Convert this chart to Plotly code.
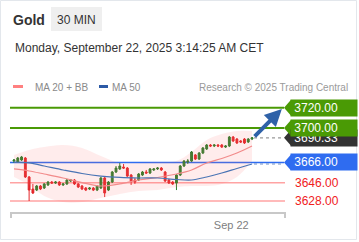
import plotly.graph_objects as go

# ---------------- data ----------------
CANDLE_IDX = list(range(64))
OPEN = [3667.4, 3666.4, 3668.4, 3670.4, 3651.7, 3639.8, 3638.8, 3642.8, 3640.8, 3643.8,
        3646.7, 3645.7, 3646.7, 3643.8, 3644.8, 3647.7, 3648.7, 3644.8, 3642.8, 3640.8,
        3639.8, 3640.8, 3638.8, 3640.8, 3650.7, 3638.8, 3646.7, 3656.6, 3659.6, 3661.5,
        3660.5, 3653.6, 3648.7, 3648.7, 3653.6, 3656.6, 3655.6, 3658.6, 3659.6, 3660.5,
        3656.6, 3648.7, 3646.7, 3645.7, 3653.6, 3662.5, 3666.4, 3667.4, 3673.4, 3669.4,
        3675.3, 3679.3, 3683.2, 3682.2, 3683.2, 3683.2, 3681.2, 3682.2, 3691.1, 3689.1,
        3687.2, 3689.1, 3686.2, 3689.1]
HIGH = [3669.4, 3671.4, 3672.4, 3671.4, 3652.6, 3644.8, 3643.8, 3643.8, 3645.7, 3647.7,
        3647.7, 3647.7, 3647.7, 3645.7, 3649.7, 3649.7, 3649.7, 3645.7, 3643.8, 3641.8,
        3641.8, 3641.8, 3643.8, 3651.7, 3651.7, 3647.7, 3657.6, 3662.5, 3665.5, 3664.5,
        3661.5, 3654.6, 3650.7, 3655.6, 3657.6, 3658.6, 3660.5, 3660.5, 3661.5, 3661.5,
        3657.6, 3649.7, 3647.7, 3654.6, 3663.5, 3668.4, 3669.4, 3677.3, 3674.3, 3676.3,
        3681.2, 3684.2, 3684.2, 3684.2, 3684.2, 3684.2, 3683.2, 3692.1, 3692.1, 3690.1,
        3688.1, 3690.1, 3690.1, 3691.1]
LOW = [3665.5, 3665.5, 3667.4, 3650.7, 3628.0, 3634.9, 3637.8, 3638.8, 3639.8, 3642.8,
       3644.8, 3644.8, 3642.8, 3642.8, 3643.8, 3646.7, 3643.8, 3640.8, 3638.8, 3637.8,
       3638.8, 3637.8, 3637.8, 3639.8, 3631.9, 3637.8, 3645.7, 3655.6, 3658.6, 3659.6,
       3651.7, 3643.8, 3644.8, 3647.7, 3652.6, 3654.6, 3654.6, 3657.6, 3658.6, 3657.6,
       3646.7, 3644.8, 3643.8, 3638.8, 3652.6, 3661.5, 3664.5, 3666.4, 3668.4, 3668.4,
       3674.3, 3678.3, 3681.2, 3681.2, 3681.2, 3680.3, 3680.3, 3681.2, 3686.2, 3684.2,
       3685.2, 3684.2, 3685.2, 3688.1]
CLOSE = [3668.4, 3670.4, 3671.4, 3651.7, 3638.8, 3635.9, 3642.8, 3639.8, 3644.8, 3646.7,
         3645.7, 3646.7, 3643.8, 3644.8, 3648.7, 3648.7, 3644.8, 3641.8, 3639.8, 3638.8,
         3640.8, 3638.8, 3642.8, 3650.7, 3635.9, 3646.7, 3656.6, 3660.5, 3662.5, 3660.5,
         3652.6, 3647.7, 3646.7, 3654.6, 3656.6, 3655.6, 3659.6, 3659.6, 3660.5, 3658.6,
         3647.7, 3645.7, 3644.8, 3653.6, 3662.5, 3667.4, 3667.4, 3676.3, 3669.4, 3675.3,
         3680.3, 3683.2, 3682.2, 3683.2, 3682.2, 3681.2, 3682.2, 3691.1, 3687.2, 3685.2,
         3686.2, 3685.2, 3689.1, 3690.33]

MA_IDX = [0, 4, 8, 13, 18, 23, 28, 33, 38, 43, 47, 51, 55, 59, 63]
MA20 = [3659.6, 3657.6, 3654.6, 3650.7, 3646.2, 3642.8, 3644.8, 3648.7, 3651.2, 3654.6,
        3658.6, 3665.5, 3669.9, 3675.3, 3682.2]
MA50 = [3666.4, 3665.5, 3662.5, 3658.6, 3655.1, 3652.6, 3651.2, 3650.7, 3650.7, 3649.2,
        3648.7, 3651.7, 3655.6, 3660.1, 3664.5]
BB_UP = [3673.4, 3678.3, 3681.2, 3683.2, 3680.3, 3672.4, 3665.5, 3665.5, 3666.4, 3667.4,
         3676.3, 3688.1, 3694.0, 3697.0, 3697.0]
BB_LO = [3651.7, 3643.8, 3632.9, 3627.0, 3627.0, 3630.9, 3634.9, 3637.8, 3638.8, 3641.8,
         3642.8, 3642.8, 3644.8, 3651.7, 3667.4]

RESISTANCES = [3720.00, 3700.00]
PIVOT = 3666.00
SUPPORTS = [3646.00, 3628.00]
LAST_PRICE = 3690.33
TICK_POS = [57.5]
TICK_LABELS = ["Sep 22"]

TITLE = "Gold"
PERIOD = "30 MIN"
DATE_TEXT = "Monday, September 22, 2025 3:14:25 AM CET"
LEGEND = ["MA 20 + BB", "MA 50"]
CREDIT = "Research \u00a9 2025 Trading Central"

# ---------------- layout helpers ----------------
W, H = 359, 242
FONT = "Liberation Sans, Arial, sans-serif"
X_LO, X_HI = 10, 285
Y_TOP, Y_BOT = 95, 213
X_RANGE = [-1.06, 71.73]
Y_RANGE = [3616.17, 3732.52]

GREEN = "#4a9a05"
BLUE = "#2f6cf0"
RED_LINE = "#ffa3a3"
RED_TEXT = "#f0201c"
DARK = "#333333"


def px(x):
    return x / W


def py(y):
    return 1 - y / H


def ix_px(i):
    return X_LO + (i - X_RANGE[0]) / (X_RANGE[1] - X_RANGE[0]) * (X_HI - X_LO)


def pspan(pix):
    return pix * (Y_RANGE[1] - Y_RANGE[0]) / (Y_BOT - Y_TOP)


fig = go.Figure()

# Bollinger band fill
fig.add_trace(go.Scatter(x=MA_IDX, y=BB_UP, mode="lines", line=dict(width=0, shape="spline"),
                         hoverinfo="skip", showlegend=False))
fig.add_trace(go.Scatter(x=MA_IDX, y=BB_LO, mode="lines", line=dict(width=0, shape="spline"),
                         fill="tonexty", fillcolor="rgba(255,110,110,0.13)",
                         hoverinfo="skip", showlegend=False))

shapes = []
# level lines (below candles)
for lv in RESISTANCES:
    shapes.append(dict(type="line", xref="paper", yref="y", x0=px(X_LO), x1=px(284), y0=lv, y1=lv,
                       line=dict(color=GREEN, width=2), layer="below"))
shapes.append(dict(type="line", xref="paper", yref="y", x0=px(X_LO), x1=px(284), y0=PIVOT, y1=PIVOT,
                   line=dict(color=BLUE, width=1.5), layer="below"))
for lv in SUPPORTS:
    shapes.append(dict(type="line", xref="paper", yref="y", x0=px(X_LO), x1=px(285), y0=lv, y1=lv,
                       line=dict(color=RED_LINE, width=1.5), layer="below"))

# moving averages
fig.add_trace(go.Scatter(x=MA_IDX, y=MA20, mode="lines", line=dict(color="#f28b8b", width=1.2, shape="spline"),
                         hoverinfo="skip", showlegend=False))
fig.add_trace(go.Scatter(x=MA_IDX, y=MA50, mode="lines", line=dict(color="#4a74b4", width=1.2, shape="spline"),
                         hoverinfo="skip", showlegend=False))

# candles
fig.add_trace(go.Candlestick(
    x=CANDLE_IDX, open=OPEN, high=HIGH, low=LOW, close=CLOSE,
    increasing=dict(line=dict(color="#2b7d2b", width=1), fillcolor="#2b7d2b"),
    decreasing=dict(line=dict(color="#e3262a", width=1), fillcolor="#e3262a"),
    whiskerwidth=0, hoverinfo="skip", showlegend=False))

last_px = ix_px(CANDLE_IDX[-1])
# dotted extensions to labels
shapes.append(dict(type="line", xref="paper", yref="y", x0=px(last_px + 2), x1=px(284),
                   y0=LAST_PRICE, y1=LAST_PRICE, line=dict(color="#999999", width=1.2, dash="dot")))
shapes.append(dict(type="line", xref="paper", yref="y", x0=px(last_px + 2), x1=px(284),
                   y0=MA50[-1], y1=MA50[-1], line=dict(color="#6f8fc4", width=1.2, dash="dot")))

# x-axis baseline with end ticks
shapes.append(dict(type="line", xref="paper", yref="paper", x0=px(10), x1=px(286), y0=py(213), y1=py(213),
                   line=dict(color="#c8c8c8", width=2)))
for xt in (11, 285):
    shapes.append(dict(type="line", xref="paper", yref="paper", x0=px(xt), x1=px(xt), y0=py(212), y1=py(218),
                       line=dict(color="#c8c8c8", width=2)))

annotations = []
half = pspan(8)


def level_label(lv, text, bg, fg="white"):
    shapes.append(dict(type="path", xref="paper", yref="y",
                       path=f"M {px(284)},{lv} L {px(291)},{lv + half} L {px(291)},{lv - half} Z",
                       fillcolor=bg, line=dict(width=0)))
    annotations.append(dict(xref="paper", yref="y", x=px(290), y=lv, xanchor="left", yanchor="middle",
                            text="\u00a0" + text, showarrow=False, bgcolor=bg, width=66, height=16,
                            borderpad=0, align="left", font=dict(family=FONT, size=12, color=fg)))


level_label(LAST_PRICE, f"{LAST_PRICE:.2f}", DARK)
level_label(PIVOT, f"{PIVOT:.2f}", BLUE)
for lv in RESISTANCES[::-1]:
    level_label(lv, f"{lv:.2f}", GREEN)
for lv in SUPPORTS:
    annotations.append(dict(xref="paper", yref="y", x=px(293), y=lv, xanchor="left", yanchor="middle",
                            text=f"{lv:.2f}", showarrow=False,
                            font=dict(family=FONT, size=12, color=RED_TEXT)))

# forecast arrow toward first resistance
annotations.append(dict(xref="x", yref="y", axref="x", ayref="y",
                        x=CANDLE_IDX[-1] + 7.9, y=RESISTANCES[0] - 1.3,
                        ax=CANDLE_IDX[-1] + 0.3, ay=LAST_PRICE, text="", showarrow=True,
                        arrowhead=2, arrowsize=0.85, arrowwidth=4, arrowcolor="#2f62a8"))

# header
shapes.append(dict(type="rect", xref="paper", yref="paper", x0=px(51), x1=px(102), y0=py(31), y1=py(7),
                   fillcolor="#efefef", line=dict(width=0)))
annotations.append(dict(xref="paper", yref="paper", x=px(11), y=py(19.5), xanchor="left", yanchor="middle",
                        text=f"<b>{TITLE}</b>", showarrow=False, font=dict(family=FONT, size=14, color=DARK)))
annotations.append(dict(xref="paper", yref="paper", x=px(76.5), y=py(19.5), xanchor="center", yanchor="middle",
                        text=PERIOD, showarrow=False, font=dict(family=FONT, size=12, color=DARK)))
annotations.append(dict(xref="paper", yref="paper", x=px(13), y=py(48), xanchor="left", yanchor="middle",
                        text=DATE_TEXT, showarrow=False, font=dict(family=FONT, size=12, color=DARK)))

# legend row
shapes.append(dict(type="rect", xref="paper", yref="paper", x0=px(13), x1=px(23), y0=py(88), y1=py(85),
                   fillcolor="#ff8080", line=dict(width=0)))
shapes.append(dict(type="rect", xref="paper", yref="paper", x0=px(99), x1=px(108), y0=py(88), y1=py(85),
                   fillcolor="#2c5aa6", line=dict(width=0)))
annotations.append(dict(xref="paper", yref="paper", x=px(33), y=py(87), xanchor="left", yanchor="middle",
                        text=LEGEND[0], showarrow=False, font=dict(family=FONT, size=10, color="#8a8a8a")))
annotations.append(dict(xref="paper", yref="paper", x=px(110), y=py(87), xanchor="left", yanchor="middle",
                        text=LEGEND[1], showarrow=False, font=dict(family=FONT, size=10, color="#8a8a8a")))
annotations.append(dict(xref="paper", yref="paper", x=px(350), y=py(87), xanchor="right", yanchor="middle",
                        text=CREDIT, showarrow=False, font=dict(family=FONT, size=10, color="#9a9a9a")))

# card border
shapes.append(dict(type="rect", xref="paper", yref="paper", x0=px(0.5), x1=px(356.5), y0=py(239.5), y1=py(0.5),
                   line=dict(color="#e3e7ec", width=1), fillcolor="rgba(0,0,0,0)", layer="below"))

fig.update_layout(
    width=W, height=H, margin=dict(l=0, r=0, t=0, b=0),
    paper_bgcolor="white", plot_bgcolor="rgba(0,0,0,0)",
    showlegend=False, shapes=shapes, annotations=annotations,
    xaxis=dict(domain=[px(X_LO), px(X_HI)], range=X_RANGE, showgrid=False, zeroline=False,
               showline=False, ticks="", tickvals=TICK_POS, ticktext=TICK_LABELS,
               tickfont=dict(family=FONT, size=11, color="#808080"), ticklabelstandoff=4,
               rangeslider=dict(visible=False), fixedrange=True),
    yaxis=dict(domain=[py(Y_BOT), py(Y_TOP)], range=Y_RANGE, visible=False, fixedrange=True),
)

fig.write_html("out.html", config={"displayModeBar": False})
